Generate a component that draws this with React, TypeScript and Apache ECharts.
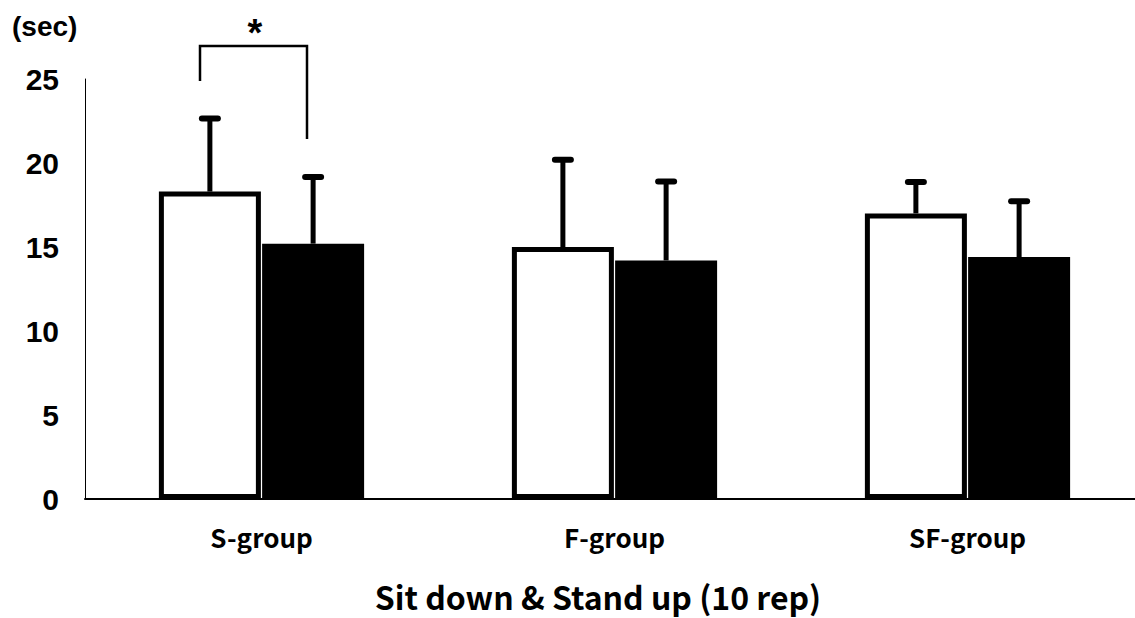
import React, { useEffect, useRef } from "react";
import * as echarts from "echarts";

const categories = ["S-group", "F-group", "SF-group"];
const preValues = [18.3, 15.0, 17.0];
const preErrTop = [22.65, 20.2, 18.87];
const postValues = [15.2, 14.2, 14.4];
const postErrTop = [19.17, 18.9, 17.72];
const yTicks = [0, 5, 10, 15, 20, 25];

const BAR_W = 102;
const GAP_PCT = 1.2;
const HALF = (BAR_W + (BAR_W * GAP_PCT) / 100) / 2;

function errorSeries(name: string, values: number[], tops: number[], side: number) {
  return {
    name,
    type: "custom",
    z: 5,
    data: values.map((v, i) => [i, v, tops[i]]),
    renderItem: (params: any, api: any) => {
      const i = api.value(0);
      const base = api.coord([i, api.value(1)]);
      const top = api.coord([i, api.value(2)]);
      const x = base[0] + side * HALF;
      return {
        type: "group",
        children: [
          {
            type: "line",
            shape: { x1: x, y1: base[1], x2: x, y2: top[1] },
            style: { stroke: "#000", lineWidth: 5 },
          },
          {
            type: "line",
            shape: { x1: x - 8, y1: top[1], x2: x + 8, y2: top[1] },
            style: { stroke: "#000", lineWidth: 6, lineCap: "round" },
          },
        ],
      };
    },
  };
}

export default function App() {
  const ref = useRef<HTMLDivElement>(null);
  useEffect(() => {
    if (!ref.current) return;
    const chart = echarts.init(ref.current, null, { renderer: "svg" });
    chart.setOption({
      animation: false,
      backgroundColor: "#fff",
      grid: { left: 85, width: 1059, top: 79, bottom: 119 },
      xAxis: {
        type: "category",
        data: categories,
        axisLine: { lineStyle: { color: "#000", width: 2 } },
        axisTick: { show: false },
        axisLabel: {
          color: "#000",
          fontFamily: "Noto Sans CJK JP",
          fontWeight: "bold",
          fontSize: 26,
          margin: 24,
        },
      },
      yAxis: {
        type: "value",
        min: 0,
        max: 25,
        interval: 5,
        splitLine: { show: false },
        axisTick: { show: false },
        axisLine: { show: true, lineStyle: { color: "#000", width: 1 } },
        axisLabel: {
          color: "#000",
          fontFamily: "Liberation Sans",
          fontWeight: "bold",
          fontSize: 30,
          margin: 26,
          formatter: (v: number) => (yTicks.includes(v) ? String(v) : ""),
        },
      },
      series: [
        {
          name: "pre",
          type: "bar",
          data: preValues,
          barWidth: BAR_W,
          barGap: GAP_PCT + "%",
          itemStyle: { color: "#fff", borderColor: "#000", borderWidth: 5 },
        },
        {
          name: "post",
          type: "bar",
          data: postValues,
          barWidth: BAR_W,
          barGap: GAP_PCT + "%",
          itemStyle: { color: "#000" },
        },
        errorSeries("preErr", preValues, preErrTop, -1),
        errorSeries("postErr", postValues, postErrTop, 1),
      ],
      graphic: [
        {
          type: "text",
          left: 12,
          top: 12,
          style: {
            text: "(sec)",
            fill: "#000",
            font: "bold 28px 'Liberation Sans'",
          },
        },
        {
          type: "polyline",
          shape: { points: [[200, 81], [200, 46], [307, 46], [307, 139]] },
          style: { stroke: "#000", lineWidth: 2.5, fill: null },
        },
        {
          type: "text",
          x: 255,
          y: 33,
          style: {
            text: "*",
            fill: "#000",
            font: "bold 38px 'Liberation Sans'",
            align: "center",
            verticalAlign: "middle",
          },
        },
        {
          type: "text",
          x: 598,
          y: 596,
          style: {
            text: "Sit down & Stand up (10 rep)",
            fill: "#000",
            font: "bold 32px 'Noto Sans CJK JP'",
            lineHeight: 32,
            align: "center",
            verticalAlign: "middle",
          },
        },
      ],
    });
    return () => chart.dispose();
  }, []);
  return (
    <div style={{ width: 1135, height: 618, overflow: "hidden", position: "absolute", left: 0, top: 0 }}>
      <div ref={ref} style={{ width: 1150, height: 618 }} />
    </div>
  );
}
